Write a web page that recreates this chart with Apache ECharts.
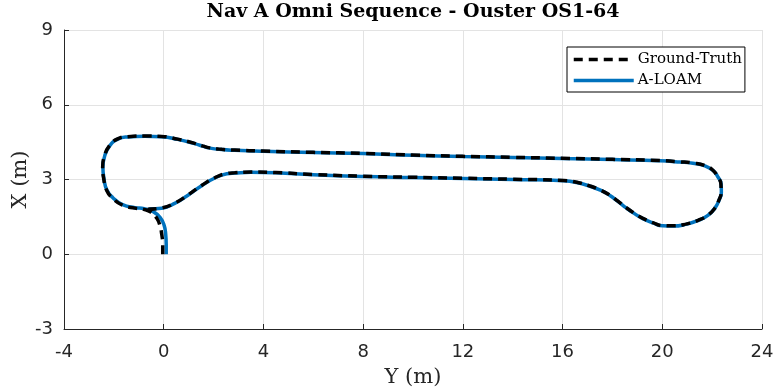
<!DOCTYPE html>
<html>
<head>
<meta charset="utf-8">
<script src="https://cdn.jsdelivr.net/npm/echarts@6/dist/echarts.min.js"></script>
<style>html,body{margin:0;padding:0;background:#fff}#c{width:777px;height:391px}</style>
</head>
<body>
<div id="c"></div>
<script>
// Trajectory points: [Y (m), X (m)]
var groundTruth = [
  [-0.04,0.00],[-0.04,0.40],[-0.08,0.80],[-0.15,1.15],[-0.28,1.45],[-0.50,1.68],[-0.80,1.80],
  [-1.16,1.85],[-1.65,1.97],[-2.05,2.25],[-2.29,2.57],[-2.41,3.05],[-2.45,3.49],[-2.37,3.97],
  [-2.17,4.37],[-1.85,4.63],[-1.44,4.72],[-0.76,4.75],[-0.08,4.73],[0.56,4.62],[1.24,4.45],
  [1.55,4.35],[1.85,4.27],[2.33,4.21],[2.85,4.18],[4.00,4.14],[6.00,4.09],[8.00,4.05],[10.00,3.98],
  [12.00,3.93],[14.00,3.89],[16.00,3.85],[18.00,3.81],[19.90,3.76],[20.71,3.71],[21.23,3.66],
  [21.71,3.56],[22.03,3.37],[22.23,3.09],[22.35,2.83],[22.36,2.49],[22.27,2.17],[22.11,1.85],
  [21.83,1.57],[21.43,1.36],[20.99,1.22],[20.43,1.14],[20.02,1.15],[19.62,1.27],[19.22,1.44],
  [18.90,1.63],[18.58,1.85],[18.22,2.13],[17.90,2.37],[17.54,2.57],[17.10,2.74],[16.57,2.89],
  [16.05,2.96],[14.00,3.01],[12.00,3.05],[10.00,3.09],[8.00,3.13],[6.00,3.20],[4.50,3.28],
  [3.50,3.30],[2.85,3.27],[2.53,3.24],[2.05,3.07],[1.52,2.76],[0.96,2.37],[0.44,2.05],
  [-0.08,1.86],[-0.64,1.81]
];
var aLoam = [
  [0.10,0.00],[0.10,0.40],[0.08,0.80],[0.02,1.15],[-0.14,1.47],[-0.42,1.71],[-0.78,1.83],
  [-1.16,1.87],[-1.65,1.99],[-2.04,2.27],[-2.28,2.58],[-2.40,3.05],[-2.44,3.49],[-2.36,3.97],
  [-2.16,4.36],[-1.84,4.62],[-1.44,4.71],[-0.76,4.74],[-0.08,4.72],[0.56,4.61],[1.24,4.44],
  [1.55,4.34],[1.85,4.26],[2.33,4.20],[2.85,4.17],[4.00,4.13],[6.00,4.08],[8.00,4.04],[10.00,3.97],
  [12.00,3.92],[14.00,3.88],[16.00,3.84],[18.00,3.80],[19.90,3.75],[20.71,3.70],[21.23,3.65],
  [21.71,3.55],[22.04,3.36],[22.24,3.09],[22.36,2.83],[22.37,2.49],[22.28,2.17],[22.11,1.85],
  [21.83,1.56],[21.43,1.35],[20.99,1.21],[20.43,1.13],[20.02,1.14],[19.62,1.26],[19.22,1.43],
  [18.90,1.62],[18.58,1.84],[18.22,2.12],[17.90,2.36],[17.54,2.56],[17.10,2.73],[16.57,2.88],
  [16.05,2.95],[14.00,3.00],[12.00,3.04],[10.00,3.08],[8.00,3.12],[6.00,3.19],[4.50,3.27],
  [3.50,3.29],[2.85,3.26],[2.53,3.23],[2.05,3.06],[1.52,2.75],[0.96,2.36],[0.44,2.04],
  [-0.08,1.85],[-0.60,1.82]
];
var xTicks = {min: -4, max: 24, interval: 4};
var yTicks = {min: -3, max: 9, interval: 3};
var seriesNames = ['Ground-Truth', 'A-LOAM'];
var titleText = 'Nav A Omni Sequence - Ouster OS1-64';
var xName = 'Y (m)';
var yName = 'X (m)';

var chart = echarts.init(document.getElementById('c'), null, {renderer: 'canvas'});
var axisCol = '#262626';
var gridCol = '#e3e3e3';
var option = {
  animation: false,
  backgroundColor: '#ffffff',
  graphic: [{
    type: 'text', x: 413, y: 12,
    style: {text: titleText, fill: '#000', font: 'bold 19px "DejaVu Serif"', textAlign: 'center', textVerticalAlign: 'middle'}
  }],
  grid: {left: 64, right: 15, top: 30, bottom: 62, containLabel: false, outerBoundsMode: 'none'},
  legend: {
    left: 567, top: 47, orient: 'vertical',
    backgroundColor: '#fff', borderColor: '#000', borderWidth: 1, borderRadius: 0,
    padding: [5, 3, 4, 5], itemGap: 6, itemWidth: 60, itemHeight: 14,
    itemStyle: {opacity: 0},
    lineStyle: {width: 3.5},
    textStyle: {fontFamily: 'DejaVu Serif', fontSize: 15, color: '#000', padding: [0,0,0,-1]},
    data: seriesNames
  },
  xAxis: {
    type: 'value', min: xTicks.min, max: xTicks.max, interval: xTicks.interval,
    name: xName, nameLocation: 'middle', nameGap: 38, nameMoveOverlap: false,
    nameTextStyle: {fontFamily: 'DejaVu Serif', fontSize: 21, color: axisCol},
    axisLine: {show: true, onZero: false, lineStyle: {color: axisCol, width: 1}},
    axisTick: {show: true, inside: true, length: 5, lineStyle: {color: axisCol}},
    axisLabel: {fontFamily: 'DejaVu Sans', fontSize: 18, color: axisCol, margin: 14},
    splitLine: {show: true, lineStyle: {color: gridCol, width: 1}}
  },
  yAxis: {
    type: 'value', min: yTicks.min, max: yTicks.max, interval: yTicks.interval,
    name: yName, nameLocation: 'middle', nameGap: 33, nameMoveOverlap: false,
    nameTextStyle: {fontFamily: 'DejaVu Serif', fontSize: 21, color: axisCol},
    axisLine: {show: true, onZero: false, lineStyle: {color: axisCol, width: 1}},
    axisTick: {show: true, inside: true, length: 5, lineStyle: {color: axisCol}},
    axisLabel: {fontFamily: 'DejaVu Sans', fontSize: 18, color: axisCol, margin: 11},
    splitLine: {show: true, lineStyle: {color: gridCol, width: 1}}
  },
  series: [
    {
      name: seriesNames[0], type: 'line', data: groundTruth, showSymbol: false, symbol: 'none',
      smooth: 0.5, z: 3,
      lineStyle: {color: '#000000', width: 3.5, type: [9, 6]},
      itemStyle: {color: '#000000'}
    },
    {
      name: seriesNames[1], type: 'line', data: aLoam, showSymbol: false, symbol: 'none',
      smooth: 0.5, z: 2,
      lineStyle: {color: '#0072BD', width: 3.5},
      itemStyle: {color: '#0072BD'}
    }
  ]
};
chart.setOption(option);
</script>
</body>
</html>
